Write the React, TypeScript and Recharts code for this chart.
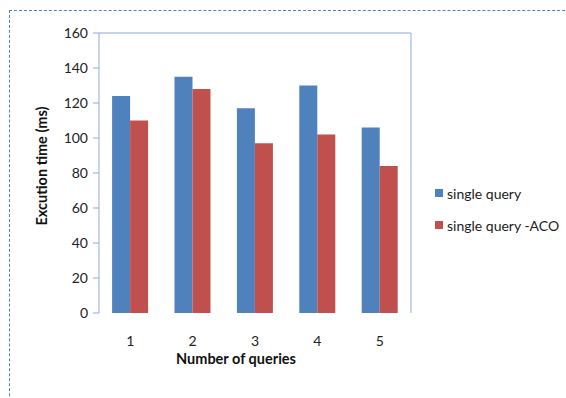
import React from 'react';
import { BarChart, Bar, XAxis, YAxis, ReferenceLine } from 'recharts';

const queries = ['1', '2', '3', '4', '5'];
const singleQuery = [124, 135, 117, 130, 106];
const singleQueryAco = [110, 128, 97, 102, 84];
const yTicks = [0, 20, 40, 60, 80, 100, 120, 140, 160];
const boundaryTicks = [0, 1, 2, 3, 4, 5];

const series = [
  { key: 'a', name: 'single query', color: '#4F81BD' },
  { key: 'b', name: 'single query -ACO', color: '#C0504D' },
];

const data = queries.map((q, i) => ({ q, idx: i + 0.5, a: singleQuery[i], b: singleQueryAco[i] }));

const axisColor = '#8EA9DB';
const font = 'Lato, sans-serif';
const textColor = '#222';

export default function App() {
  return (
    <div style={{ position: 'absolute', left: 0, top: 0, width: 566, height: 398, background: '#fff', fontFamily: font }}>
      {/* dashed outer frame */}
      <div
        style={{
          position: 'absolute',
          left: 9,
          top: 10,
          width: 600,
          height: 420,
          borderTop: '1px dashed #4F81BD',
          borderLeft: '1px dashed #4F81BD',
        }}
      />
      <BarChart
        width={566}
        height={398}
        data={data}
        margin={{ top: 33, right: 155, bottom: 25, left: 39 }}
        barCategoryGap="21%"
        barGap={0}
        style={{ position: 'absolute', left: 0, top: 0 }}
      >
        <XAxis
          xAxisId="edge"
          type="number"
          dataKey="idx"
          domain={[0, 5]}
          ticks={boundaryTicks}
          tickFormatter={() => ''}
          height={0}
          tickSize={6}
          stroke={axisColor}
        />
        <XAxis
          xAxisId="cat"
          dataKey="q"
          height={60}
          axisLine={false}
          tickLine={false}
          tickSize={0}
          tickMargin={23}
          tick={{ fill: textColor, fontSize: 14, fontFamily: font }}
          label={{
            value: 'Number of queries',
            position: 'insideBottom',
            offset: 9,
            dx: -19,
            fill: '#111',
            fontSize: 14.5,
            fontWeight: 'bold',
            fontFamily: font,
          }}
        />
        <YAxis
          domain={[0, 160]}
          ticks={yTicks}
          width={60}
          tickSize={6}
          tickMargin={5}
          stroke={axisColor}
          tick={{ fill: textColor, fontSize: 14, fontFamily: font }}
          label={{
            value: 'Excution time (ms)',
            angle: -90,
            position: 'center',
            dx: -27,
            dy: -7,
            fill: '#111',
            fontSize: 14.5,
            fontWeight: 'bold',
            fontFamily: font,
          }}
        />
        <ReferenceLine y={160} stroke={axisColor} xAxisId="cat" />
        <ReferenceLine x={5} stroke={axisColor} xAxisId="edge" />
        {series.map((s) => (
          <Bar key={s.key} dataKey={s.key} name={s.name} fill={s.color} xAxisId="cat" isAnimationActive={false} />
        ))}
      </BarChart>
      {/* legend */}
      <div style={{ position: 'absolute', left: 435, top: 183, fontSize: 14, color: textColor }}>
        {series.map((s) => (
          <div key={s.key} style={{ display: 'flex', alignItems: 'center', height: 20, marginBottom: 12 }}>
            <div style={{ width: 8, height: 8, background: s.color, marginRight: 4 }} />
            {s.name}
          </div>
        ))}
      </div>
    </div>
  );
}
